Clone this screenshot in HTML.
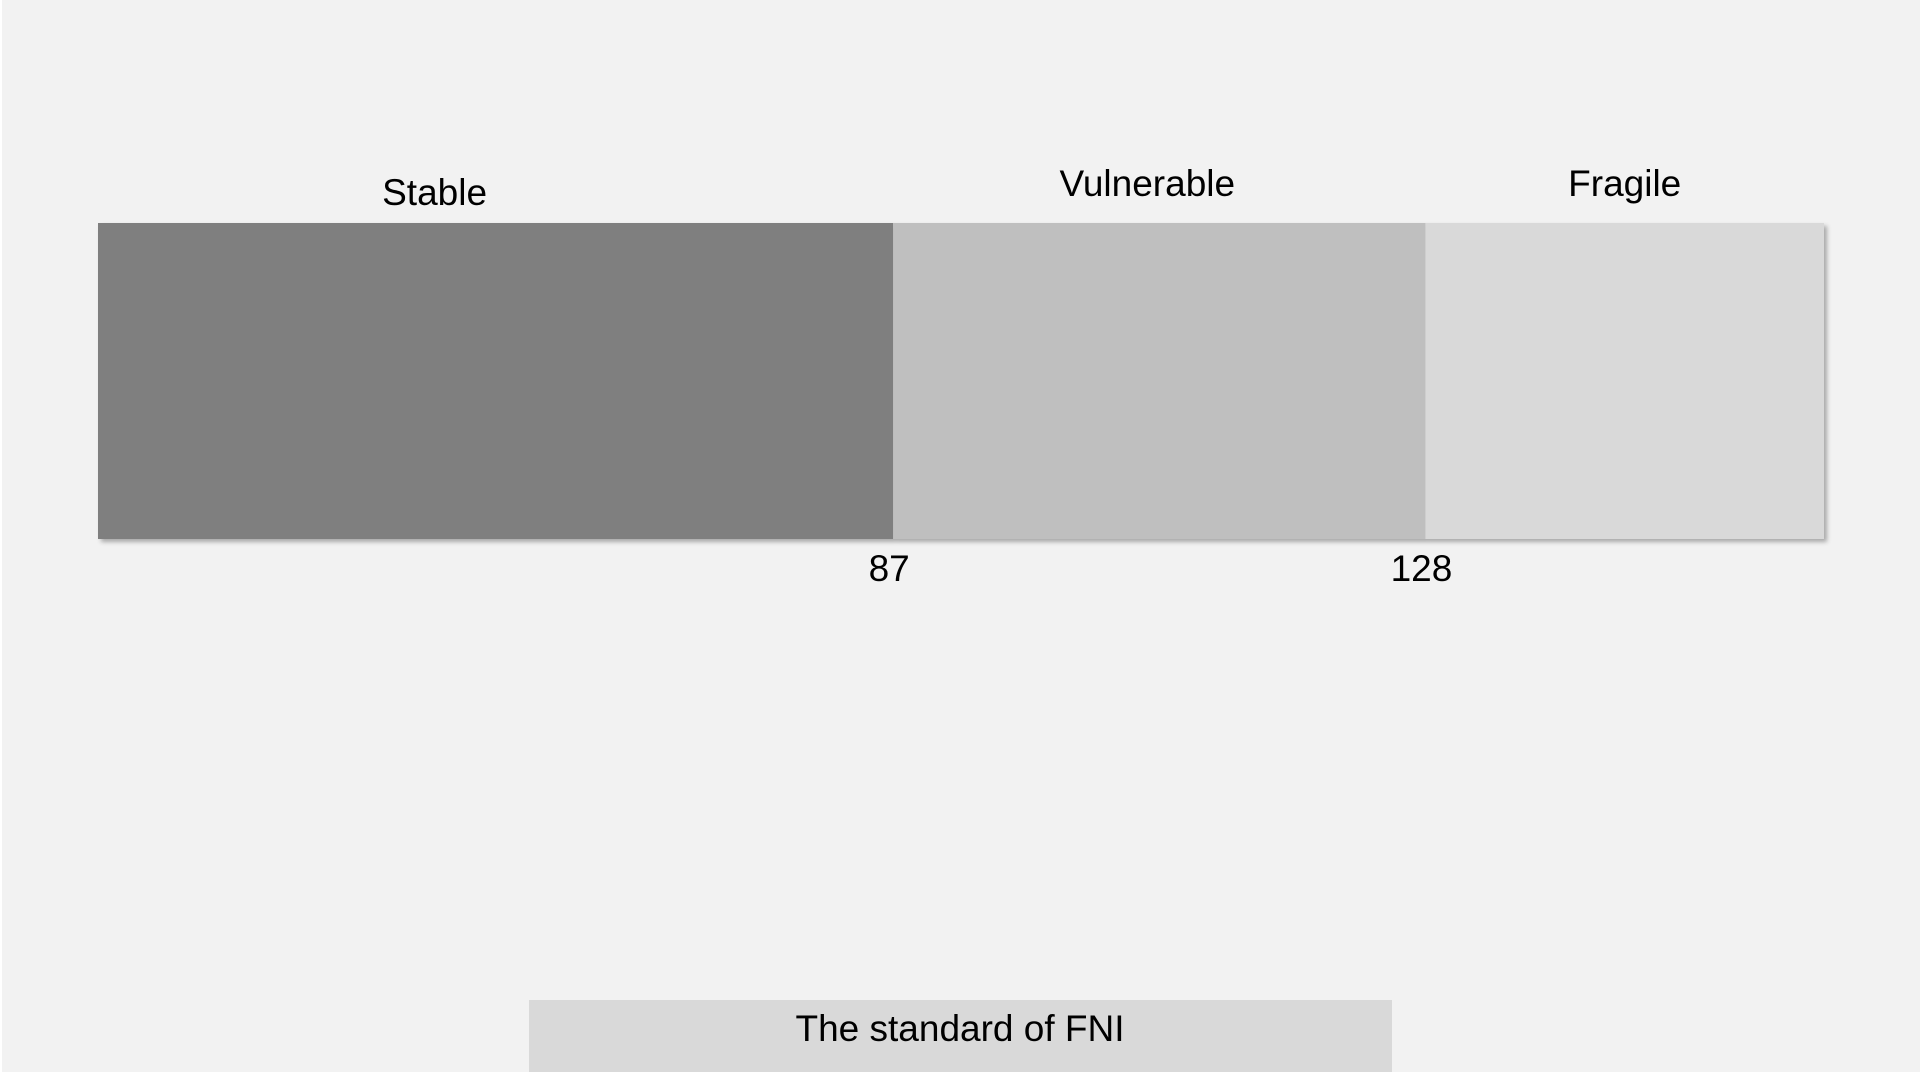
<!DOCTYPE html>
<html>
<head>
<meta charset="utf-8">
<style>
html,body{margin:0;padding:0;}
body{width:1920px;height:1072px;background:#f2f2f2;overflow:hidden;position:relative;font-family:"Liberation Sans",sans-serif;}
svg{position:absolute;left:0;top:0;}
</style>
</head>
<body>
<svg id="chart" width="1920" height="1072" viewBox="0 0 1920 1072">
  <defs>
    <filter id="sh" x="-5%" y="-5%" width="110%" height="120%">
      <feDropShadow dx="3" dy="3" stdDeviation="2" flood-color="#000" flood-opacity="0.3"/>
    </filter>
  </defs>
  <rect x="0" y="0" width="2" height="1072" fill="#ffffff"/>
  <g id="bars" filter="url(#sh)"></g>
  <g id="labels"></g>
  <rect x="529" y="1000" width="863" height="72" fill="#d9d9d9"/>
  <text x="960" y="1041" text-anchor="middle" font-size="37" fill="#000">The standard of FNI</text>
</svg>
<script>
const categories = ["Stable", "Vulnerable", "Fragile"];
const thresholds = [87, 128];
const domain = [25.75, 158.7];
const colors = ["#7f7f7f", "#bfbfbf", "#d9d9d9"];

const X0 = 98, X1 = 1824, Y0 = 223, Y1 = 539;
function xScale(v){ return X0 + (v - domain[0]) / (domain[1] - domain[0]) * (X1 - X0); }
const ns = "http://www.w3.org/2000/svg";
const bars = document.getElementById("bars");
const labels = document.getElementById("labels");
const edges = [domain[0]].concat(thresholds, [domain[1]]);
const labelY = [193, 184, 184];
const labelDx = [-61, -12, 0];
for (let i = 0; i < categories.length; i++) {
  const a = xScale(edges[i]), b = xScale(edges[i+1]);
  const r = document.createElementNS(ns, "rect");
  r.setAttribute("x", a); r.setAttribute("y", Y0);
  r.setAttribute("width", b - a); r.setAttribute("height", Y1 - Y0);
  r.setAttribute("fill", colors[i]);
  
  
  bars.appendChild(r);
  const t = document.createElementNS(ns, "text");
  t.setAttribute("x", (a + b) / 2 + labelDx[i]);
  t.setAttribute("y", labelY[i] + 12);
  t.setAttribute("text-anchor", "middle");
  t.setAttribute("font-size", "37");
  t.textContent = categories[i];
  
  
  labels.appendChild(t);
}
thresholds.forEach(function(v){
  const t = document.createElementNS(ns, "text");
  t.setAttribute("x", xScale(v) - 4);
  t.setAttribute("y", 581);
  t.setAttribute("text-anchor", "middle");
  t.setAttribute("font-size", "37");
  t.textContent = v;
  
  
  labels.appendChild(t);
});
</script>
</body>
</html>
